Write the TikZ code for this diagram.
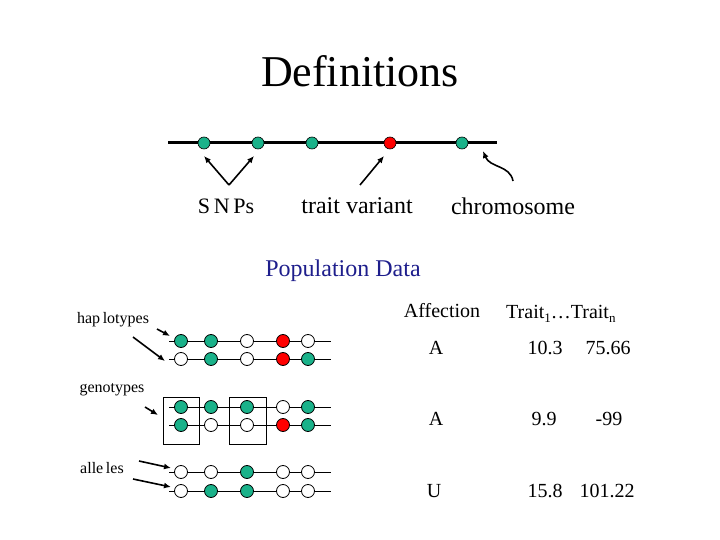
\documentclass[tikz,border=0pt]{standalone}
\usepackage{fontspec}
\setmainfont{Liberation Serif}
\usetikzlibrary{arrows.meta}
\definecolor{snpgreen}{RGB}{26,178,138}
\definecolor{navy}{RGB}{30,30,140}
\newcommand{\mysub}[1]{\raisebox{-4pt}{\fontsize{13}{14}\selectfont #1}}
\tikzset{
  dot/.style={circle,draw=black,line width=0.8pt,inner sep=0pt,minimum size=13pt},
  g/.style={dot,fill=snpgreen},
  r/.style={dot,fill=red},
  w/.style={dot,fill=white},
  bigdot/.style={circle,draw=black,line width=0.6pt,inner sep=0pt,minimum size=12pt},
  arr/.style={-{Latex[length=7pt,width=6pt]},line width=1.6pt},
  lbl/.style={font=\fontsize{24}{27}\selectfont,inner sep=0pt},
  small/.style={font=\fontsize{16}{18}\selectfont,inner sep=0pt},
  tab/.style={font=\fontsize{20}{23}\selectfont,inner sep=0pt},
  rowline/.style={line width=0.8pt},
  gbox/.style={draw=black,line width=0.8pt}
}
\begin{document}
\begin{tikzpicture}[x=1pt,y=-1pt]
\useasboundingbox (0,0) rectangle (720,540);
% title
\node[font=\fontsize{44}{50}\selectfont,inner sep=0pt] (title) at (360,71) {Definitions};
% chromosome
\coordinate (cL) at (168,143);
\coordinate (cR) at (497,143);
\draw[line width=3pt] (cL) -- (cR);
\node[bigdot,fill=snpgreen] (s1) at (204,143) {};
\node[bigdot,fill=snpgreen] (s2) at (258,143) {};
\node[bigdot,fill=snpgreen] (s3) at (312,143) {};
\node[bigdot,fill=red] (s4) at (390,143) {};
\node[bigdot,fill=snpgreen] (s5) at (462,143) {};
% arrows
\coordinate (v) at (229,185);
\coordinate (t1) at (204,156);
\coordinate (t2) at (254,156);
\draw[arr] (v) -- (t1);
\draw[arr] (v) -- (t2);
\coordinate (tv0) at (360,185);
\coordinate (tv1) at (384,156);
\draw[arr] (tv0) -- (tv1);
\coordinate (ch0) at (513,181);
\coordinate (ch1) at (483,151);
\draw[arr] (ch0) .. controls (510,165) and (490,168) .. (ch1);
\node[font=\fontsize{22}{25}\selectfont,inner sep=0pt] (snps) at (226,206) {S\,N\,Ps};
\node[lbl] (tvar) at (357,206) {trait variant};
\node[lbl] (chrom) at (513,206) {chromosome};
% population data
\node[lbl,text=navy] (pop) at (343,271) {Population Data};
% left labels
\node[small] (hap) at (113,320) {hap\,lotypes};
\node[small] (geno) at (112,390) {genotypes};
\node[small] (all) at (102,468) {alle\,les};
% arrows left
\coordinate (h1a) at (157,329);
\coordinate (h1b) at (170,336);
\coordinate (h2a) at (133,337);
\coordinate (h2b) at (165,361);
\draw[arr] (h1a) -- (h1b);
\draw[arr] (h2a) -- (h2b);
\coordinate (g1a) at (145,407);
\coordinate (g1b) at (158,415);
\draw[arr] (g1a) -- (g1b);
\coordinate (a1a) at (139,461);
\coordinate (a1b) at (171,468);
\coordinate (a2a) at (133,479);
\coordinate (a2b) at (171,487);
\draw[arr] (a1a) -- (a1b);
\draw[arr] (a2a) -- (a2b);
% genotype boxes
\draw[gbox] (163,397) rectangle (199,444);
\draw[gbox] (229,397) rectangle (266,444);
% rows
\foreach \y/\c/\n in {341/{g,g,w,r,w}/ha,359/{w,g,w,r,g}/hb,407/{g,g,g,w,g}/ga,425/{g,w,w,r,g}/gb,472/{w,w,g,w,w}/aa,491/{w,g,g,w,w}/ab}{
  \coordinate (\n L) at (169,\y);
  \coordinate (\n R) at (331,\y);
  \draw[rowline] (\n L) -- (\n R);
  \foreach \x [count=\i] in {181,211,247,283,308}{
    \foreach \cc [count=\j] in \c {
      \ifnum\i=\j \node[\cc] (\n\i) at (\x,\y) {}; \fi
    }
  }
}
% table
\node[tab] (aff) at (442,311) {Affection};
\node[tab,anchor=base west] (trait) at (506,318) {Trait\mysub{1}\ldots Trait\mysub{n}};
\node[tab] (r1a) at (436,348) {A};
\node[tab] (r1b) at (545,348) {10.3};
\node[tab] (r1c) at (608,348) {75.66};
\node[tab] (r2a) at (436,419) {A};
\node[tab] (r2b) at (544,419) {9.9};
\node[tab] (r2c) at (609,419) {-99};
\node[tab] (r3a) at (434,491) {U};
\node[tab] (r3b) at (545,491) {15.8};
\node[tab] (r3c) at (607,491) {101.22};
\end{tikzpicture}
\end{document}
